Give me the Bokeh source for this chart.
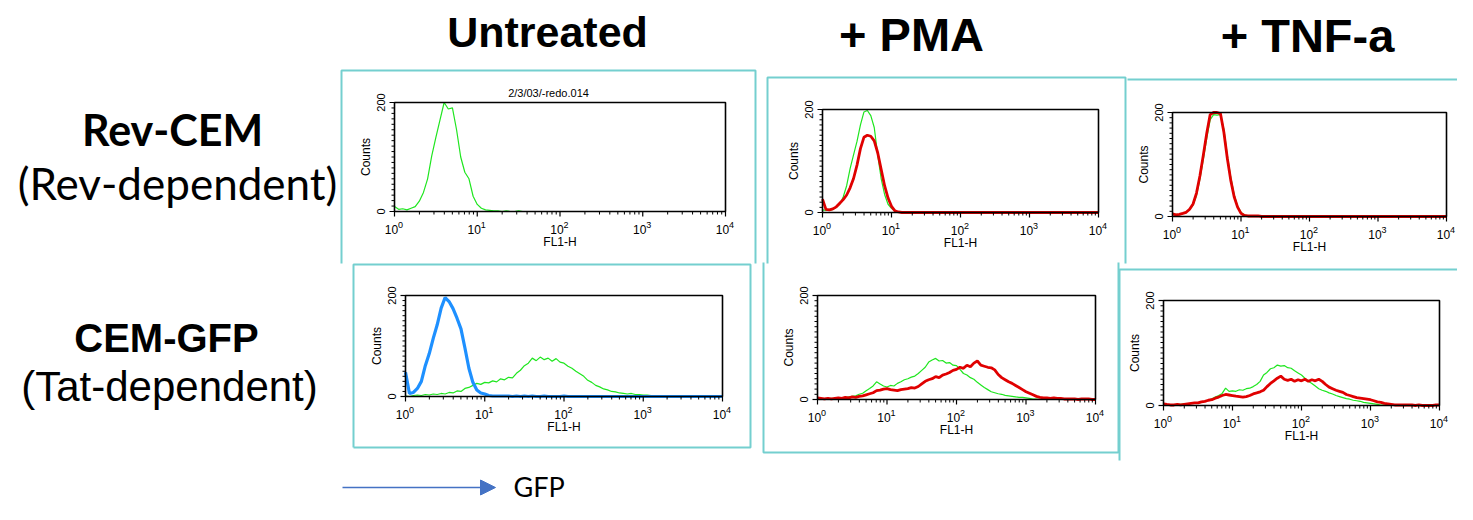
import math
import numpy as np
from bokeh.plotting import figure
from bokeh.models import Range1d, LinearScale, Arrow, NormalHead
from bokeh.core.properties import value
from bokeh.embed import file_html
from bokeh.resources import INLINE

# ---------------- data (FL1-H channel values and counts) ----------------
FL1 = [
    1.0, 1.122, 1.259, 1.413, 1.585, 1.778, 1.995, 2.239, 2.512, 2.818,
    3.162, 3.548, 3.981, 4.467, 5.012, 5.623, 6.310, 7.079, 7.943, 8.913,
    10.0, 11.22, 12.59, 14.13, 15.85, 17.78, 19.95, 22.39, 25.12, 28.18,
    31.62, 35.48, 39.81, 44.67, 50.12, 56.23, 63.10, 70.79, 79.43, 89.13,
    100.0, 112.2, 125.9, 141.3, 158.5, 177.8, 199.5, 223.9, 251.2, 281.8,
    316.2, 354.8, 398.1, 446.7, 501.2, 562.3, 631.0, 707.9, 794.3, 891.3,
    1000.0, 1122, 1259, 1413, 1585, 1778, 1995, 2239, 2512, 2818,
    3162, 3548, 3981, 4467, 5012, 5623, 6310, 7079, 7943, 8913,
    10000.0,
]

rev_untreated_green = [
    9, 4, 5, 3, 6, 9, 19, 35, 60, 102,
    136, 168, 200, 188, 190, 150, 100, 72, 60, 28,
    13, 6, 3, 2, 1, 1, 0, 1, 0, 0,
    1, 0, 0, 0, 0, 0, 0, 0, 0, 0,
    0, 0, 0, 0, 0, 0, 0, 0, 0, 0,
    0, 0, 0, 0, 0, 0, 0, 0, 0, 0,
    0, 0, 0, 0, 0, 0, 0, 0, 0, 0,
    0, 0, 0, 0, 0, 0, 0, 0, 0, 0,
    0,
]
rev_pma_green = [
    5, 4, 4, 6, 10, 16, 30, 52, 85, 112,
    138, 170, 195, 198, 188, 165, 112, 66, 35, 16,
    8, 3, 1, 1, 0, 1, 1, 0, 1, 0,
    1, 0, 1, 0, 0, 0, 0, 0, 0, 0,
    0, 0, 0, 0, 0, 0, 0, 0, 0, 0,
    0, 0, 0, 0, 0, 0, 0, 0, 0, 0,
    0, 0, 0, 0, 0, 0, 0, 0, 0, 0,
    0, 0, 0, 0, 0, 0, 0, 0, 0, 0,
    0,
]
rev_pma_red = [
    26, 6, 5, 7, 11, 18, 25, 34, 48, 66,
    92, 124, 146, 150, 148, 139, 116, 84, 52, 28,
    12, 3, 1, 0, 0, 0, 0, 0, 0, 0,
    0, 0, 0, 0, 0, 0, 0, 0, 0, 0,
    0, 0, 0, 0, 0, 0, 0, 0, 0, 0,
    0, 0, 0, 0, 0, 0, 0, 0, 0, 0,
    0, 0, 0, 0, 0, 0, 0, 0, 0, 0,
    0, 0, 0, 0, 0, 0, 0, 0, 0, 0,
    0,
]
rev_tnf_green = [
    4, 4, 3, 6, 9, 13, 22, 40, 72, 110,
    150, 186, 196, 195, 196, 168, 118, 76, 42, 20,
    8, 3, 1, 0, 0, 0, 0, 0, 0, 0,
    2, 0, 0, 0, 0, 1, 0, 0, 0, 0,
    0, 0, 0, 0, 0, 0, 0, 0, 0, 0,
    0, 0, 0, 0, 0, 0, 0, 0, 0, 0,
    0, 0, 0, 0, 0, 0, 0, 0, 0, 0,
    0, 0, 0, 0, 0, 0, 0, 0, 0, 0,
    0,
]
rev_tnf_red = [
    5, 3, 4, 6, 8, 14, 24, 45, 78, 118,
    160, 196, 200, 200, 198, 162, 112, 70, 38, 18,
    6, 2, 1, 1, 1, 1, 0, 0, 0, 0,
    0, 0, 0, 0, 0, 0, 0, 0, 0, 0,
    0, 0, 0, 0, 0, 0, 0, 0, 0, 0,
    0, 0, 0, 0, 0, 0, 0, 0, 0, 0,
    0, 0, 0, 0, 0, 0, 0, 0, 0, 0,
    0, 0, 0, 0, 0, 0, 0, 0, 0, 0,
    0,
]
gfp_untreated_green = [
    1, 0, 2, 3, 2, 4, 3, 5, 4, 6,
    5, 8, 7, 11, 10, 16, 18, 22, 26, 24,
    28, 27, 31, 29, 35, 33, 38, 37, 46, 52,
    61, 66, 76, 71, 78, 73, 76, 70, 75, 68,
    66, 60, 56, 50, 45, 40, 32, 28, 22, 19,
    15, 13, 10, 9, 7, 6, 5, 6, 4, 4,
    3, 3, 2, 2, 1, 2, 1, 0, 1, 0,
    0, 0, 1, 0, 0, 0, 0, 0, 0, 0,
    0,
]
gfp_untreated_blue = [
    48, 6, 8, 16, 30, 61, 85, 115, 142, 175,
    196, 188, 174, 155, 134, 96, 56, 28, 13, 7,
    5, 2, 1, 1, 1, 1, 1, 0, 1, 0,
    1, 0, 1, 0, 0, 1, 0, 0, 0, 0,
    1, 0, 0, 0, 0, 0, 0, 0, 0, 0,
    0, 0, 0, 0, 0, 0, 0, 0, 0, 0,
    0, 0, 0, 0, 0, 0, 0, 0, 0, 0,
    0, 0, 0, 0, 0, 0, 0, 0, 0, 0,
    0,
]
gfp_pma_green = [
    0, 1, 0, 1, 2, 1, 2, 3, 3, 5,
    6, 7, 10, 12, 17, 21, 26, 34, 30, 26,
    24, 27, 26, 31, 34, 38, 40, 43, 45, 50,
    56, 62, 72, 76, 79, 74, 75, 70, 71, 66,
    65, 58, 50, 47, 42, 39, 33, 28, 23, 19,
    15, 13, 11, 10, 8, 7, 6, 5, 4, 4,
    3, 2, 1, 1, 0, 1, 0, 0, 0, 0,
    0, 0, 0, 0, 0, 0, 0, 0, 0, 0,
    0,
]
gfp_pma_red = [
    3, 2, 1, 2, 1, 2, 3, 2, 4, 3,
    5, 4, 6, 7, 9, 11, 13, 17, 18, 20,
    21, 19, 18, 17, 19, 20, 21, 23, 22, 25,
    30, 35, 38, 40, 44, 42, 47, 49, 52, 56,
    58, 62, 60, 66, 63, 70, 74, 66, 64, 62,
    61, 57, 48, 42, 38, 34, 31, 27, 23, 19,
    15, 12, 9, 6, 4, 3, 3, 2, 3, 2,
    2, 1, 1, 1, 1, 0, 1, 1, 1, 0,
    0,
]
gfp_tnf_green = [
    0, 1, 0, 1, 2, 2, 3, 3, 4, 4,
    5, 6, 8, 10, 13, 16, 19, 23, 33, 27,
    28, 27, 30, 29, 32, 33, 36, 40, 46, 58,
    63, 70, 72, 77, 75, 76, 72, 71, 66, 62,
    58, 52, 46, 42, 37, 32, 29, 27, 24, 22,
    19, 17, 15, 13, 12, 10, 9, 8, 6, 5,
    4, 3, 2, 1, 1, 0, 0, 0, 0, 0,
    0, 0, 0, 0, 0, 0, 0, 0, 0, 0,
    0,
]
gfp_tnf_red = [
    3, 2, 1, 1, 2, 1, 2, 3, 4, 5,
    5, 7, 8, 10, 11, 14, 16, 19, 21, 20,
    19, 18, 17, 16, 17, 19, 22, 24, 26, 29,
    36, 42, 47, 52, 56, 50, 48, 50, 46, 49,
    47, 50, 46, 49, 47, 50, 46, 40, 35, 32,
    29, 27, 25, 21, 19, 17, 15, 14, 13, 12,
    11, 9, 7, 6, 4, 3, 2, 1, 1, 1,
    1, 1, 1, 0, 1, 0, 0, 0, 0, 1,
    1,
]

column_titles = ["Untreated", "+ PMA", "+ TNF-a"]
row_titles = ["Rev-CEM", "CEM-GFP"]
row_subtitles = ["(Rev-dependent)", "(Tat-dependent)"]
x_label = "FL1-H"
y_label = "Counts"
x_decades = [1, 10, 100, 1000, 10000]
x_exponents = ["0", "1", "2", "3", "4"]
x_minor = [m * d for d in [1, 10, 100, 1000] for m in range(2, 10)]
y_major = [0, 200]
y_minor = list(range(10, 200, 10))

# ---------------- styles / layout ----------------
GREEN = "#1FE61F"
RED = "#E00000"
BLUE = "#1E90FF"
TEAL = "#74CFCF"
ARROW_BLUE = "#4472C4"
AX_FONT = value("Liberation Sans")
W, H = 1457, 504

panels = [
    dict(L=394, R=725, T=102, B=211, curves=[(rev_untreated_green, GREEN, 1.2)]),
    dict(L=822, R=1098, T=109, B=212, curves=[(rev_pma_green, GREEN, 1.2), (rev_pma_red, RED, 2.8)]),
    dict(L=1172, R=1446, T=112, B=216, curves=[(rev_tnf_green, GREEN, 1.2), (rev_tnf_red, RED, 2.8)]),
    dict(L=405, R=722, T=295, B=396, curves=[(gfp_untreated_green, GREEN, 1.2), (gfp_untreated_blue, BLUE, 3.2)]),
    dict(L=817, R=1095, T=295, B=399, curves=[(gfp_pma_green, GREEN, 1.2), (gfp_pma_red, RED, 2.8)]),
    dict(L=1163, R=1439, T=300, B=405, curves=[(gfp_tnf_green, GREEN, 1.2), (gfp_tnf_red, RED, 2.8)]),
]

p = figure(width=W, height=H, x_range=Range1d(0, W), y_range=Range1d(H, 0),
           output_backend="svg", toolbar_location=None, tools="", min_border=0,
           x_axis_location=None, y_axis_location=None, outline_line_color=None,
           background_fill_color="white", border_fill_color="white")
p.grid.visible = False

# teal panel boxes (page layout)
box_xs = [[341, 341, 755, 755], [767, 767, 1125, 1125], [1127, 1473],
          [353, 353, 750, 750, 353], [763, 763, 1118, 1118], [1119, 1119, 1463]]
box_ys = [[263, 70, 70, 263], [263, 77, 77, 263], [79, 79],
          [447, 264, 264, 447, 447], [262, 452, 452, 262], [460, 269, 269]]
p.multi_line(xs=box_xs, ys=box_ys, line_color=TEAL, line_width=2)

log_fl1 = np.log10(FL1)
log_dec = np.log10(x_decades)
log_minor = np.log10(x_minor)

for pan in panels:
    L, R, T, B = pan["L"], pan["R"], pan["T"], pan["B"]
    # log10(FL1-H) decades 0..4 -> panel width, counts 0..200 -> panel height
    data = p.subplot(x_source=Range1d(0, 4), y_source=Range1d(0, 200),
                     x_scale=LinearScale(), y_scale=LinearScale(),
                     x_target=Range1d(L, R), y_target=Range1d(B, T))
    xax = p.subplot(x_source=Range1d(0, 4), y_source=Range1d(0, 1),
                    x_scale=LinearScale(), y_scale=LinearScale(),
                    x_target=Range1d(L, R), y_target=Range1d(0, 1))
    yax = p.subplot(x_source=Range1d(0, 1), y_source=Range1d(0, 200),
                    x_scale=LinearScale(), y_scale=LinearScale(),
                    x_target=Range1d(0, 1), y_target=Range1d(B, T))
    for counts, color, width in pan["curves"]:
        data.line(x=log_fl1, y=counts, line_color=color, line_width=width)
    data.quad(left=[0], right=[4], bottom=[0], top=[200], fill_color=None,
              line_color="black", line_width=1.6)
    # x ticks
    xax.segment(x0=log_dec, y0=[B] * 5, x1=log_dec, y1=[B + 5] * 5, line_color="black", line_width=1.2)
    xax.segment(x0=log_minor, y0=[B] * len(x_minor), x1=log_minor, y1=[B + 3] * len(x_minor),
                line_color="black", line_width=1)
    xax.text(x=log_dec, y=[B + 18] * 5, text=["10"] * 5, x_offset=-3, text_align="center",
             text_baseline="middle", text_font=AX_FONT, text_font_size="12px", text_color="black")
    xax.text(x=log_dec, y=[B + 13] * 5, text=x_exponents, x_offset=6, text_align="center",
             text_baseline="middle", text_font=AX_FONT, text_font_size="9px", text_color="black")
    xax.text(x=[2], y=[B + 30], text=[x_label], text_align="center", text_baseline="middle",
             text_font=AX_FONT, text_font_size="12px", text_color="black")
    # y ticks
    yax.segment(x0=[L - 5] * 2, y0=y_major, x1=[L] * 2, y1=y_major, line_color="black", line_width=1.2)
    yax.segment(x0=[L - 3] * len(y_minor), y0=y_minor, x1=[L] * len(y_minor), y1=y_minor,
                line_color="black", line_width=1)
    yax.text(x=[L - 14] * 2, y=y_major, text=[str(v) for v in y_major], angle=math.pi / 2,
             text_align="center", text_baseline="middle", text_font=AX_FONT,
             text_font_size="11px", text_color="black")
    yax.text(x=[L - 29], y=[100], text=[y_label], angle=math.pi / 2, text_align="center",
             text_baseline="middle", text_font=AX_FONT, text_font_size="12px", text_color="black")

# file name above the first histogram
p.text(x=[548], y=[92], text=["2/3/03/-redo.014"], text_align="center", text_baseline="middle",
       text_font=AX_FONT, text_font_size="11px", text_color="black")

# column titles (y = vertical centre of the capitals)
p.text(x=[547], y=[31], text=[column_titles[0]], text_align="center",
       text_baseline="middle", text_font=value("Liberation Sans"), text_font_style="bold",
       text_font_size="43px", text_color="black")
p.text(x=[911, 1307], y=[34, 35], text=column_titles[1:], text_align="center",
       text_baseline="middle", text_font=value("Liberation Sans"), text_font_style="bold",
       text_font_size="47px", text_color="black")

# row titles
p.text(x=[172], y=[129], text=[row_titles[0]], text_align="center", text_baseline="middle",
       text_font=value("Lato"), text_font_style="bold", text_font_size="43px", text_color="black")
p.text(x=[177], y=[182], text=[row_subtitles[0]], text_align="center", text_baseline="middle",
       text_font=value("Lato"), text_font_size="44px", text_color="black")
p.text(x=[166], y=[337], text=[row_titles[1]], text_align="center", text_baseline="middle",
       text_font=value("Liberation Sans"), text_font_style="bold", text_font_size="40px", text_color="black")
p.text(x=[169], y=[386], text=[row_subtitles[1]], text_align="center", text_baseline="middle",
       text_font=value("Liberation Sans"), text_font_size="42px", text_color="black")

# GFP arrow (kept inside the 504 px high canvas)
p.add_layout(Arrow(end=NormalHead(size=15, fill_color=ARROW_BLUE, line_color=ARROW_BLUE),
                   x_start=342, y_start=487, x_end=495, y_end=487,
                   line_color=ARROW_BLUE, line_width=1.5))
p.text(x=[513], y=[486], text=["GFP"], text_align="left", text_baseline="middle",
       text_font=value("Lato"), text_font_size="27px", text_color="black")

open("out.html", "w").write(file_html(p, INLINE))
